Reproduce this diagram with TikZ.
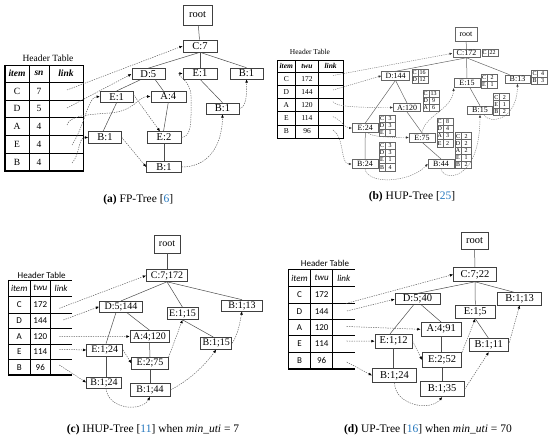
\documentclass[tikz,border=0pt]{standalone}
\usepackage{fontspec}
\setmainfont{Liberation Serif}
\newfontfamily\calfont{Carlito}
\usetikzlibrary{arrows.meta}
\definecolor{citeblue}{RGB}{38,120,190}
\newcommand\minitab[4]{%
  \foreach \mL/\mN [count=\mI] in {#3} {%
    \draw[mtline] ({#1},{#2+(\mI-1)*7.2}) rectangle ({#1+16},{#2+\mI*7.2});
    \draw[mtline] ({#1+6},{#2+(\mI-1)*7.2}) -- ({#1+6},{#2+\mI*7.2});
    \node[mtxt] (#4-\mI-l) at ({#1+3},{#2+(\mI-0.5)*7.2}) {\mL};
    \node[mtxt] (#4-\mI-n) at ({#1+11},{#2+(\mI-0.5)*7.2}) {\mN};
  }}
\begin{document}
\begin{tikzpicture}[x=1pt,y=-1pt,
  every node/.style={inner sep=0pt},
  tn/.style={draw=black!75, line width=0.6pt, fill=white, inner sep=1pt},
  an/.style={tn, minimum width=33, minimum height=11, font=\fontsize{10.5}{11}\selectfont},
  bn/.style={draw=black!60, line width=0.5pt, fill=white, inner sep=0.5pt, minimum height=8.5, font=\fontsize{8}{8}\selectfont},
  cn/.style={tn, minimum height=12, font=\fontsize{10}{10}\selectfont},
  dn/.style={tn, minimum height=13.5, font=\fontsize{10.5}{11}\selectfont},
  tedge/.style={draw=black!70, line width=0.5pt},
  tedgeb/.style={draw=black!60, line width=0.5pt},
  lnk/.style={draw=black!62, line width=0.5pt, dash pattern=on 1.3pt off 1.1pt, -{Latex[length=3.4pt,width=2.8pt,black]}},
  lnkb/.style={draw=black!52, line width=0.45pt, dash pattern=on 1.2pt off 1pt, -{Latex[length=3pt,width=2.4pt,black!80]}},
  mtline/.style={draw=black!60, line width=0.4pt},
  mtxt/.style={font=\fontsize{6}{6}\selectfont},
  tline/.style={draw=black, line width=0.6pt},
  tthick/.style={draw=black, line width=1.4pt},
  ta/.style={font=\fontsize{9.5}{10}\selectfont},
  tb/.style={font=\fontsize{7.5}{8}\selectfont},
  tc/.style={font=\calfont\fontsize{9}{10}\selectfont},
  capt/.style={font=\fontsize{11.5}{12}\selectfont}
]
\useasboundingbox (0,0) rectangle (550,441);

% ================= (a) FP-Tree =================
\node[ta] (a-ht) at (48,58.5) {Header Table};
\draw[tline] (5,65) rectangle (83,171);
\foreach \yy in {82,100,117,135,153} \draw[tline] (5,\yy) -- (83,\yy);
\foreach \xx in {29,49} \draw[tline] (\xx,65) -- (\xx,171);
\draw[tthick] (5,65) -- (5,171) -- (83,171);
\node[ta] (a-h1) at (17,73.5) {\textbf{\textit{item}}};
\node[ta] (a-h2) at (39,73.5) {\textbf{\textit{sn}}};
\node[ta] (a-h3) at (66,73.5) {\textbf{\textit{link}}};
\foreach \hI/\hV/\hY in {C/7/91, D/5/108.5, A/4/126, E/4/144, B/4/162} {
  \node[ta] (a-ti-\hI) at (17,\hY) {\hI};
  \node[ta] (a-tv-\hI) at (39,\hY) {\hV};
}
\coordinate (a-lC) at (67,90);
\coordinate (a-lD) at (67,108);
\coordinate (a-lA) at (67,125);
\coordinate (a-lE) at (72,145);
\coordinate (a-lB) at (72,163);

\node[an, minimum width=29, minimum height=20] (a-root) at (197.5,15) {root};
\node[an, minimum width=34, minimum height=12] (a-C) at (200,46) {C:7};
\node[an] (a-D) at (148.3,74) {D:5};
\node[an, minimum width=34] (a-E1) at (200,73.5) {E:1};
\node[an] (a-B1) at (246.5,73.5) {B:1};
\node[an] (a-E2) at (116.7,96.7) {E:1};
\node[an, minimum width=35] (a-A) at (168.3,96.5) {A:4};
\node[an] (a-B2) at (222.5,108.5) {B:1};
\node[an, minimum height=11.5] (a-B3) at (105,137.5) {B:1};
\node[an, minimum width=34, minimum height=11.5] (a-E3) at (164,137.5) {E:2};
\node[an, minimum width=35, minimum height=11.5] (a-B4) at (164,167) {B:1};

\draw[tedge] (a-root) -- (a-C);
\draw[tedge] (a-C.south) -- (a-D.north);
\draw[tedge] (a-C.south) -- (a-E1.north);
\draw[tedge] (a-C.south) -- (a-B1.north);
\draw[tedge] ([xshift=-8]a-D.south) -- (a-E2.north);
\draw[tedge] ([xshift=7]a-D.south) -- ([xshift=-5]a-A.north);
\draw[tedge] (a-E2.south) -- ([xshift=-2]a-B3.north);
\draw[tedge] (a-A.south) -- ([xshift=-0.5]a-E3.north);
\draw[tedge] (a-E3.south) -- (a-B4.north);
\draw[tedge] (a-E1.south) -- (a-B2.north);

\draw[lnk] (a-lC) -- (a-C.west);
\draw[lnk] (a-lD) -- (a-D.west);
\draw[lnk] (a-lA) .. controls (70,117) and (80,115) .. (110,113) .. controls (135,111) and (138,96.5) .. (a-A.west);
\draw[lnk] (a-lE) .. controls (85,125) and (88,96.7) .. (a-E2.west);
\draw[lnk] (a-lB) .. controls (80,155) and (78,137.5) .. (a-B3.west);
\draw[lnk] ([yshift=2]a-E2.east) -- ([xshift=-4]a-E3.north);
\draw[lnk] (a-E3.east) .. controls (189,137) and (191,128) .. (191,115) -- (191,96) .. controls (191,80) and (174,73.5) .. (a-E1.west);
\draw[lnk] (a-B3.east) -- (a-B4.west);
\draw[lnk] (a-B4.east) .. controls (205,167) and (222,150) .. (a-B2.south);
\draw[lnk] (a-B2.east) .. controls (246,108) and (247,95) .. (a-B1.south);

\node[capt] (cap-a) at (138.3,200) {{\bfseries (a)} FP-Tree [\textcolor{citeblue}{6}]};

% ================= (b) HUP-Tree =================
\node[tb] (b-ht) at (310,52) {Header Table};
\draw[tline] (277,60) rectangle (343,138);
\foreach \yy in {72,85.3,98.5,111.7,125} \draw[tline] (277,\yy) -- (343,\yy);
\foreach \xx in {295.5,318.3} \draw[tline] (\xx,60) -- (\xx,138);
\node[tb] (b-h1) at (286.3,66) {\textbf{\textit{item}}};
\node[tb] (b-h2) at (307,66) {\textbf{\textit{twu}}};
\node[tb] (b-h3) at (330.7,66) {\textbf{\textit{link}}};
\foreach \hI/\hV/\hY in {C/172/78.7, D/144/92, A/120/105, E/114/118.3, B/96/131.5} {
  \node[tb] (b-ti-\hI) at (286.3,\hY) {\hI};
  \node[tb] (b-tv-\hI) at (307,\hY) {\hV};
}
\coordinate (b-lC) at (333,75.5);
\coordinate (b-lD) at (333,90);
\coordinate (b-lA) at (333,101.7);
\coordinate (b-lE) at (333,116.7);
\coordinate (b-lB) at (333,130);

\node[bn, minimum width=21.7, minimum height=14.3] (b-root) at (466,34.5) {root};
\node[bn, minimum width=27.5] (b-C) at (466.5,53.3) {C:172};
\node[bn, minimum width=27.6] (b-D) at (395.5,75.8) {D:144};
\node[bn, minimum width=26, minimum height=9.3] (b-E15) at (467,83) {E:15};
\node[bn, minimum width=25] (b-B13) at (517.5,79.2) {B:13};
\node[bn, minimum width=27.4] (b-A) at (407,107.5) {A:120};
\node[bn, minimum width=25.4] (b-B15) at (480,110.2) {B:15};
\node[bn, minimum width=26, minimum height=9.5] (b-E24) at (365.3,128) {E:24};
\node[bn, minimum width=25.7, minimum height=9] (b-E75) at (422,137.5) {E:75};
\node[bn, minimum width=26] (b-B24) at (365,164) {B:24};
\node[bn, minimum width=25.7, minimum height=9] (b-B44) at (441,163.7) {B:44};

\minitab{481.7}{49.3}{C/22}{b-mC}
\minitab{411.7}{69}{C/16,D/12}{b-mD}
\minitab{481}{74}{C/2,E/1}{b-mE15}
\minitab{531.5}{70}{C/4,B/3}{b-mB13}
\minitab{422.7}{90}{C/13,D/9,A/6}{b-mA}
\minitab{493.3}{93.5}{C/2,E/1,B/2}{b-mB15}
\minitab{379}{115}{C/3,D/3,E/1}{b-mE24}
\minitab{436.7}{118}{C/8,D/4,A/3,E/2}{b-mE75}
\minitab{379}{142}{C/3,D/3,E/1,B/4}{b-mB24}
\minitab{455}{132.5}{C/2,D/2,A/2,E/1,B/2}{b-mB44}

\draw[tedgeb] (b-root) -- (b-C);
\draw[tedgeb] (b-C.south) -- (b-D.north);
\draw[tedgeb] (b-C.south) -- (b-E15.north);
\draw[tedgeb] (b-C.south) -- ([xshift=-8]b-B13.north);
\draw[tedgeb] (b-D.south) -- (b-E24.north);
\draw[tedgeb] (b-E24.south) -- (b-B24.north);
\draw[tedgeb] (b-D.south) -- (b-A.north);
\draw[tedgeb] (b-A.south) -- (b-E75.north);
\draw[tedgeb] (b-E75.south) -- (b-B44.north);
\draw[tedgeb] ([xshift=3]b-E15.south) -- (b-B15.north);

\draw[lnkb] (b-lC) -- (b-C.west);
\draw[lnkb] (b-lD) -- (b-D.west);
\draw[lnkb] (b-lA) .. controls (336,107) and (360,107.5) .. (b-A.west);
\draw[lnkb] (b-lE) .. controls (340,119) and (345,128) .. (b-E24.west);
\draw[lnkb] (b-lB) .. controls (345,138) and (340,164) .. (b-B24.west);
\draw[lnkb] ([xshift=3]b-E24.south) .. controls (372,137) and (390,137.5) .. (b-E75.west);
\draw[lnkb] (b-E75.north) .. controls (425,115) and (452,110) .. (b-E15.south west);
\draw[lnkb] (b-B24.south) .. controls (367,185) and (410,183) .. (b-B44.west);
\draw[lnkb] (b-B44.south) .. controls (443,182) and (480,182) .. (b-B15.south);
\draw[lnkb] ([xshift=4]b-B15.south) .. controls (488,124) and (517,122) .. (b-B13.south);

\node[capt] (cap-b) at (412,197) {{\bfseries (b)} HUP-Tree [\textcolor{citeblue}{25}]};

% ================= (c) IHUP-Tree =================
\node[tc] (c-ht) at (41.7,275) {Header Table};
\foreach \yy in {280,296,313.3,344,359.3} \draw[tline] (8.3,\yy) -- (71.7,\yy);
\draw[tthick] (8.3,328.3) -- (71.7,328.3);
\foreach \xx in {30,50.7} \draw[tline] (\xx,280) -- (\xx,375);
\draw[tthick] (8.3,280) -- (8.3,375) -- (71.7,375);
\node[tc] (c-h1) at (19.2,288) {\textit{item}};
\node[tc] (c-h2) at (40.3,288) {\textit{twu}};
\node[tc] (c-h3) at (61.2,288) {\textit{link}};
\foreach \hI/\hV/\hY in {C/172/304.7, D/144/320.8, A/120/336.2, E/114/351.7, B/96/367.2} {
  \node[tc] (c-ti-\hI) at (19.2,\hY) {\hI};
  \node[tc] (c-tv-\hI) at (40.3,\hY) {\hV};
}
\coordinate (c-lC) at (59.3,308.3);
\coordinate (c-lD) at (63.3,320);
\coordinate (c-lA) at (59.3,336.7);
\coordinate (c-lE) at (59.3,349.3);
\coordinate (c-lB) at (59.3,365);

\node[cn, minimum width=26, minimum height=18] (c-root) at (167,244) {root};
\node[cn, minimum width=41] (c-C) at (167,275.5) {C:7;172};
\node[cn, minimum width=43, minimum height=11] (c-D) at (121,306.7) {D:5;144};
\node[cn, minimum width=31] (c-E15) at (182.5,313.5) {E:1;15};
\node[cn, minimum width=41, minimum height=11] (c-B13) at (242,305.5) {B:1;13};
\node[cn, minimum width=39] (c-A) at (149.5,336.5) {A:4;120};
\node[cn, minimum width=36] (c-E1) at (104.7,350) {E:1;24};
\node[cn, minimum width=36.7] (c-E2) at (150,363.3) {E:2;75};
\node[cn, minimum width=31] (c-B15) at (216.2,343.3) {B:1;15};
\node[cn, minimum width=35, minimum height=11] (c-B24) at (104,382.5) {B:1;24};
\node[cn, minimum width=40, minimum height=13] (c-B44) at (150,390) {B:1;44};

\draw[tedge] (c-root) -- (c-C);
\draw[tedge] (c-C.south) -- (c-D.north);
\draw[tedge] (c-C.south) -- (c-E15.north);
\draw[tedge] (c-C.south) -- (c-B13.north);
\draw[tedge] ([xshift=-5]c-D.south) -- ([xshift=1.3]c-E1.north);
\draw[tedge] ([xshift=1.3]c-E1.south) -- ([xshift=2]c-B24.north);
\draw[tedge] ([xshift=5.7]c-D.south) -- (c-A.north);
\draw[tedge] (c-A.south) -- (c-E2.north);
\draw[tedge] (c-E2.south) -- (c-B44.north);
\draw[tedge] (c-E15.south) -- ([xshift=-3]c-B15.north);

\draw[lnk] (c-lC) -- (c-C.west);
\draw[lnk] (c-lD) -- (c-D.west);
\draw[lnk] (c-lA) -- (c-A.west);
\draw[lnk] (c-lE) -- (c-E1.west);
\draw[lnk] (c-lB) -- (c-B24.west);
\draw[lnk] (c-E1.east) -- (c-E2.west);
\draw[lnk] (c-E2.north east) -- (c-E15.south);
\draw[lnk] (c-B44.east) .. controls (190,380) and (205,365) .. (c-B15.south);
\draw[lnk] (c-B15.east) .. controls (238,335) and (240,322) .. (c-B13.south);
\draw[lnk] ([xshift=2]c-B24.south) .. controls (108,410) and (142,412) .. (c-B44.south);

\node[capt] (cap-c) at (153,430) {{\bfseries (c)} IHUP-Tree [\textcolor{citeblue}{11}] when \textit{min\_uti} = 7};

% ================= (d) UP-Tree =================
\node[tc] (d-ht) at (325,263.3) {Header Table};
\foreach \yy in {269.3,286.7,303.3,335,352.3} \draw[tline] (288.3,\yy) -- (355,\yy);
\draw[tthick] (288.3,319.3) -- (355,319.3);
\foreach \xx in {310.7,332.7} \draw[tline] (\xx,269.3) -- (\xx,369);
\draw[tthick] (288.3,269.3) -- (288.3,369) -- (355,369);
\node[tc] (d-h1) at (299.5,278) {\textit{item}};
\node[tc] (d-h2) at (321.7,278) {\textit{twu}};
\node[tc] (d-h3) at (343.8,278) {\textit{link}};
\foreach \hI/\hV/\hY in {C/172/295, D/144/311.3, A/120/327.2, E/114/343.7, B/96/360.7} {
  \node[tc] (d-ti-\hI) at (299.5,\hY) {\hI};
  \node[tc] (d-tv-\hI) at (321.7,\hY) {\hV};
}
\coordinate (d-lC) at (346,303.5);
\coordinate (d-lD) at (347,311);
\coordinate (d-lA) at (346.7,326.5);
\coordinate (d-lE) at (346.7,341);
\coordinate (d-lB) at (346.7,362);

\node[dn, minimum width=26.6, minimum height=16.6] (d-root) at (474.5,241) {root};
\node[dn, minimum width=43, minimum height=14] (d-C) at (475,274.5) {C:7;22};
\node[dn, minimum width=45, minimum height=11] (d-D) at (417.5,299.2) {D:5;40};
\node[dn, minimum width=44, minimum height=12.5] (d-B13) at (519.7,298.7) {B:1;13};
\node[dn, minimum width=39.3] (d-E15) at (475.3,311.7) {E:1;5};
\node[dn, minimum width=40.7] (d-A) at (441.3,329.3) {A:4;91};
\node[dn, minimum width=37.3, minimum height=14] (d-E1) at (393.7,341.2) {E:1;12};
\node[dn, minimum width=39] (d-B11) at (488.8,345) {B:1;11};
\node[dn, minimum width=39.3, minimum height=14.5] (d-E2) at (442,360) {E:2;52};
\node[dn, minimum width=44.3, minimum height=14.3] (d-B24) at (394.5,375.5) {B:1;24};
\node[dn, minimum width=44.3, minimum height=15] (d-B35) at (442.2,389.2) {B:1;35};

\draw[tedge] (d-root) -- (d-C);
\draw[tedge] (d-C.south) -- (d-D.north);
\draw[tedge] (d-C.south) -- (d-E15.north);
\draw[tedge] (d-C.south) -- ([xshift=-6]d-B13.north);
\draw[tedge] ([xshift=-4]d-D.south) -- ([xshift=-3.7]d-E1.north);
\draw[tedge] ([xshift=-0.4]d-E1.south) -- ([xshift=-1.2]d-B24.north);
\draw[tedge] ([xshift=4]d-D.south) -- (d-A.north);
\draw[tedge] (d-A.south) -- (d-A.south |- d-E2.north);
\draw[tedge] (d-E2.south) -- (d-E2.south |- d-B35.north);
\draw[tedge] (d-E15.south) -- ([xshift=-0.5]d-B11.north);

\draw[lnk] (d-lC) -- (d-C.west);
\draw[lnk] (d-lD) -- (d-D.west);
\draw[lnk] (d-lA) -- (d-A.west);
\draw[lnk] (d-lE) -- (d-E1.west);
\draw[lnk] (d-lB) -- (d-B24.west);
\draw[lnk] (d-E1.east) -- (d-E2.west);
\draw[lnk] (d-E2.north east) -- (d-E15.south);
\draw[lnk] (d-B24.south) .. controls (395,405) and (430,412) .. (d-B35.south);
\draw[lnk] (d-B35.east) -- (d-B11.south);
\draw[lnk] (d-B11.east) -- (d-B13.south);

\node[capt] (cap-d) at (428,430) {{\bfseries (d)} UP-Tree [\textcolor{citeblue}{16}] when \textit{min\_uti} = 70};
\end{tikzpicture}
\end{document}
